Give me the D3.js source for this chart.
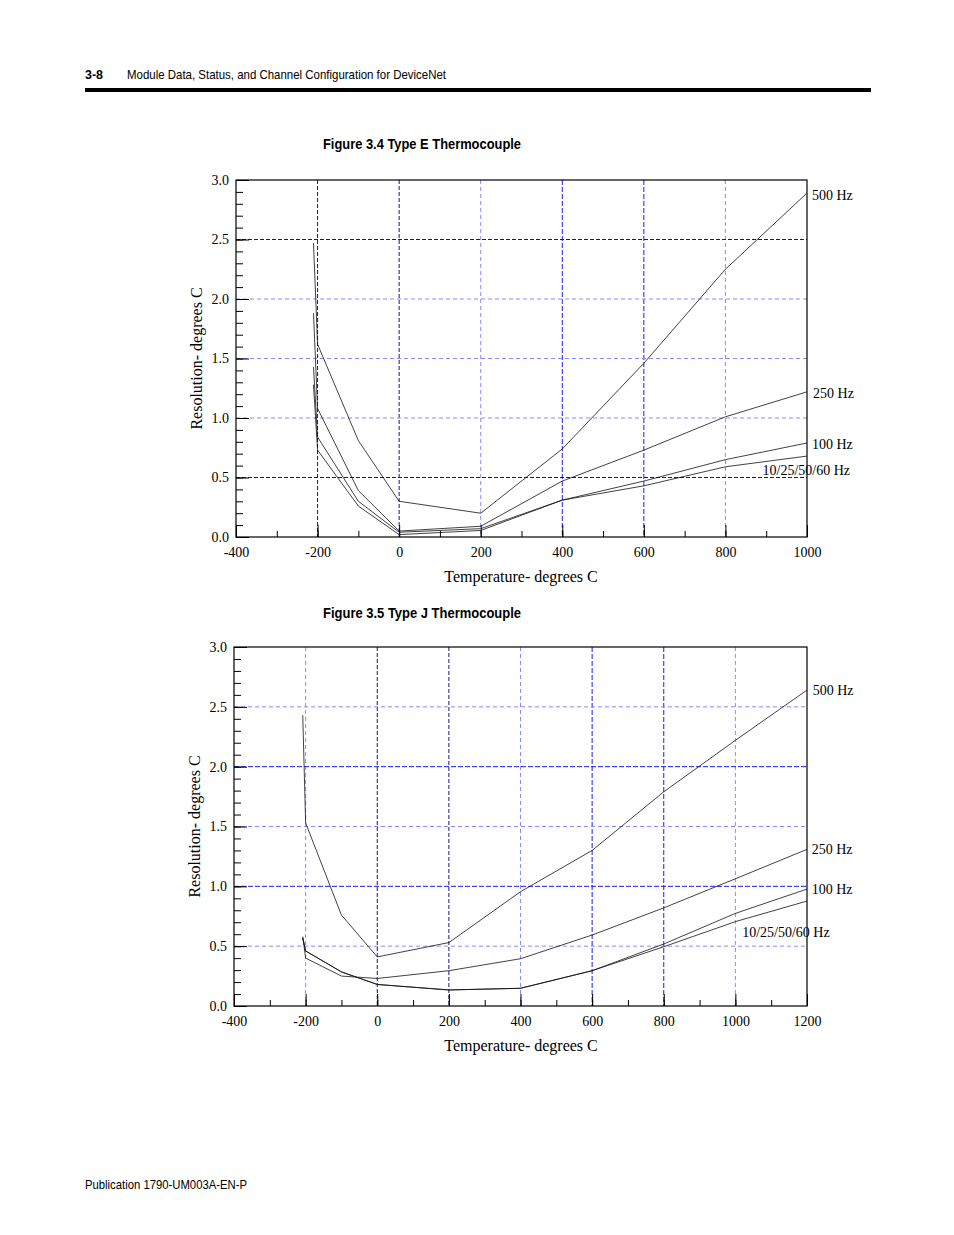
<!DOCTYPE html>
<html><head><meta charset="utf-8">
<script src="https://cdn.jsdelivr.net/npm/d3@7"></script>
<style>
body{margin:0;background:#fff;}
svg{display:block;}
.tick text{font-family:"Liberation Serif","Times New Roman",serif;font-size:14px;fill:#000;}
.serif{font-family:"Liberation Serif","Times New Roman",serif;fill:#000;}
.sans{font-family:"Liberation Sans",Arial,sans-serif;fill:#000;}
</style></head>
<body>
<script>
// ---------- Figure 3.4 Type E ----------
const eTemps = [-210, -200, -100, 0, 200, 400, 600, 800, 1000];
const e500   = [2.47, 1.62, 0.81, 0.30, 0.20, 0.74, 1.46, 2.25, 2.89];
const e250   = [1.88, 1.08, 0.39, 0.05, 0.09, 0.47, 0.73, 1.01, 1.22];
const e100   = [1.43, 0.84, 0.30, 0.04, 0.07, 0.31, 0.47, 0.65, 0.79];
const eLow   = [1.28, 0.73, 0.26, 0.02, 0.055, 0.31, 0.43, 0.59, 0.68];
const eXTicks = [-400, -200, 0, 200, 400, 600, 800, 1000];

// ---------- Figure 3.5 Type J ----------
const jTemps = [-208, -200, -100, 0, 200, 400, 600, 800, 1000, 1200];
const j500   = [2.43, 1.53, 0.76, 0.41, 0.53, 0.955, 1.30, 1.79, 2.22, 2.64];
const j250   = [0.58, 0.40, 0.25, 0.23, 0.295, 0.395, 0.593, 0.82, 1.063, 1.309];
const j100   = [0.57, 0.46, 0.285, 0.18, 0.134, 0.148, 0.295, 0.518, 0.774, 0.977];
const jLow   = [0.57, 0.46, 0.285, 0.18, 0.134, 0.148, 0.295, 0.495, 0.705, 0.877];
const jXTicks = [-400, -200, 0, 200, 400, 600, 800, 1000, 1200];

const yTicks = [0.0, 0.5, 1.0, 1.5, 2.0, 2.5, 3.0];
const seriesNames = ["500 Hz", "250 Hz", "100 Hz", "10/25/50/60 Hz"];

const svg = d3.select("body").append("svg").attr("width", 954).attr("height", 1235);

// Header
svg.append("text").attr("class","sans").attr("x",85).attr("y",79)
  .attr("font-size",13).attr("font-weight","bold")
  .attr("textLength",18).attr("lengthAdjust","spacingAndGlyphs").text("3-8");
svg.append("text").attr("class","sans").attr("x",127).attr("y",79)
  .attr("font-size",13).attr("textLength",319).attr("lengthAdjust","spacingAndGlyphs")
  .text("Module Data, Status, and Channel Configuration for DeviceNet");
svg.append("rect").attr("x",85).attr("y",88).attr("width",786).attr("height",4).attr("fill","#000");
svg.append("text").attr("class","sans").attr("x",85).attr("y",1189)
  .attr("font-size",13).attr("textLength",162).attr("lengthAdjust","spacingAndGlyphs")
  .text("Publication 1790-UM003A-EN-P");

const gridStyle = {
  dark: {stroke:"#14148c", dash:"4,2"},
  blue: {stroke:"#1a1aff", dash:"5,2"},
  light:{stroke:"#8a8aff", dash:"4,3"}
};

function drawChart(cfg) {
  const x = d3.scaleLinear().domain(cfg.xDomain).range([cfg.left, cfg.right]);
  const y = d3.scaleLinear().domain([0, 3]).range([cfg.bottom, cfg.top]);
  const g = svg.append("g");

  // title
  g.append("text").attr("class","sans").attr("x",323).attr("y",cfg.titleY)
    .attr("font-size",14).attr("font-weight","bold")
    .attr("textLength",198).attr("lengthAdjust","spacingAndGlyphs").text(cfg.title);

  // grid lines
  cfg.vGrid.forEach(([v, s]) => {
    g.append("line").attr("x1", x(v)).attr("x2", x(v)).attr("y1", y(3)).attr("y2", y(0))
      .attr("stroke", gridStyle[s].stroke).attr("stroke-dasharray", gridStyle[s].dash).attr("stroke-width", 1);
  });
  cfg.hGrid.forEach(([v, s]) => {
    g.append("line").attr("x1", x(cfg.xDomain[0])).attr("x2", x(cfg.xDomain[1])).attr("y1", y(v)).attr("y2", y(v))
      .attr("stroke", gridStyle[s].stroke).attr("stroke-dasharray", gridStyle[s].dash).attr("stroke-width", 1);
  });

  // ticks
  const yMinor = d3.range(0, 31).map(d => d / 10);
  g.append("g").attr("transform", `translate(${cfg.left},0)`)
    .call(d3.axisLeft(y).tickValues(yMinor).tickSize(-7).tickFormat(""))
    .call(a => a.select(".domain").remove());
  g.append("g").attr("transform", `translate(${cfg.left},0)`)
    .call(d3.axisLeft(y).tickValues(yTicks).tickSize(-13).tickPadding(7).tickFormat(d => d.toFixed(1)))
    .call(a => a.select(".domain").remove());
  const xMinor = d3.range(cfg.xDomain[0], cfg.xDomain[1] + 1, 100);
  g.append("g").attr("transform", `translate(0,${cfg.bottom})`)
    .call(d3.axisBottom(x).tickValues(xMinor).tickSize(-6).tickFormat(""))
    .call(a => a.select(".domain").remove());
  g.append("g").attr("transform", `translate(0,${cfg.bottom})`)
    .call(d3.axisBottom(x).tickValues(cfg.xTicks).tickSize(-12).tickPadding(cfg.xPad).tickFormat(d => String(d)))
    .call(a => a.select(".domain").remove());
  g.selectAll(".tick line").attr("stroke", "#000");

  // frame
  g.append("rect").attr("x", cfg.left).attr("y", cfg.top)
    .attr("width", cfg.right - cfg.left).attr("height", cfg.bottom - cfg.top)
    .attr("fill", "none").attr("stroke", "#000").attr("stroke-width", 1.2);

  // series
  const line = d3.line().x(d => x(d[0])).y(d => y(d[1]));
  cfg.series.forEach(vals => {
    g.append("path").datum(cfg.temps.map((t, i) => [t, vals[i]]))
      .attr("d", line).attr("fill", "none").attr("stroke", "#111").attr("stroke-width", 0.8);
  });

  // series labels
  cfg.labels.forEach(([name, lx, ly]) => {
    g.append("text").attr("class","serif").attr("font-size",14)
      .attr("x", x(lx)).attr("y", y(ly)).attr("dy","0.35em").text(name);
  });

  // axis titles
  g.append("text").attr("class","serif").attr("font-size",16).attr("text-anchor","middle")
    .attr("x", 521).attr("y", cfg.bottom + 45).text("Temperature- degrees C");
  g.append("text").attr("class","serif").attr("font-size",16).attr("text-anchor","middle")
    .attr("transform", `translate(${cfg.left - 34},${(cfg.top + cfg.bottom) / 2}) rotate(-90)`)
    .text("Resolution- degrees C");
}

drawChart({
  title: "Figure 3.4 Type E Thermocouple", titleY: 149,
  left: 236, right: 807, top: 180, bottom: 537, xPad: 10,
  xDomain: [-400, 1000], xTicks: eXTicks, temps: eTemps,
  series: [e500, e250, e100, eLow],
  vGrid: [[-200,"dark"],[0,"dark"],[200,"light"],[400,"blue"],[600,"blue"],[800,"light"]],
  hGrid: [[0.5,"dark"],[1.0,"light"],[1.5,"light"],[2.0,"light"],[2.5,"dark"]],
  labels: [[seriesNames[0], 1012, 2.87], [seriesNames[1], 1015, 1.21], [seriesNames[2], 1012, 0.78], [seriesNames[3], 891, 0.56]]
});

drawChart({
  title: "Figure 3.5 Type J Thermocouple", titleY: 618,
  left: 234, right: 807, top: 647, bottom: 1006, xPad: 10,
  xDomain: [-400, 1200], xTicks: jXTicks, temps: jTemps,
  series: [j500, j250, j100, jLow],
  vGrid: [[-200,"light"],[0,"dark"],[200,"dark"],[400,"light"],[600,"blue"],[800,"blue"],[1000,"light"]],
  hGrid: [[0.5,"light"],[1.0,"blue"],[1.5,"light"],[2.0,"blue"],[2.5,"light"]],
  labels: [[seriesNames[0], 1216, 2.64], [seriesNames[1], 1213, 1.31], [seriesNames[2], 1213, 0.98], [seriesNames[3], 1019, 0.62]]
});
</script>
</body></html>
